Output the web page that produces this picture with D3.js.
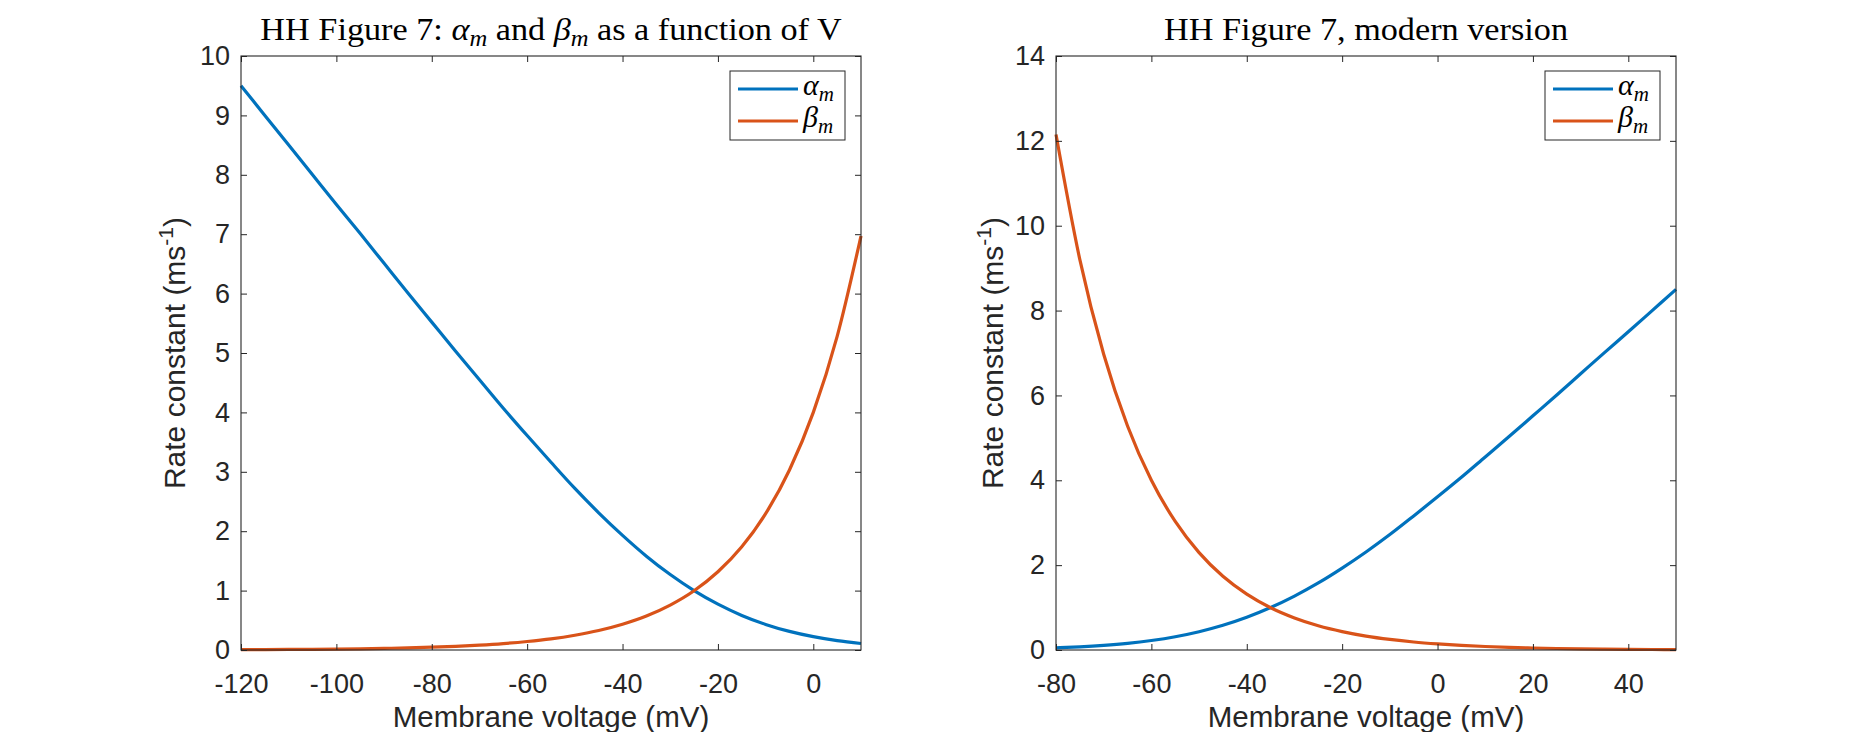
<!DOCTYPE html>
<html><head><meta charset="utf-8">
<script src="https://cdn.jsdelivr.net/npm/d3@7/dist/d3.min.js"></script>
<style>
body{margin:0;background:#fff;}
svg{display:block;}
.tick text{font-family:"Liberation Sans",Arial,sans-serif;fill:#262626;}
</style></head>
<body>
<svg id="chart" width="1852" height="732"></svg>
<script>
// ---------- data ----------
const voltsLeft = [-120,-115,-110,-105,-100,-95,-90,-85,-80,-75,-70,-65,-60,-55,-50,-45,-40,-35,-30,-25,-20,-15,-10,-5,0,5,10];
const alphaLeft = [9.50,9.00,8.50,8.00,7.50,7.01,6.51,6.01,5.52,5.03,4.55,4.07,3.61,3.16,2.72,2.31,1.93,1.58,1.27,1.00,0.771,0.582,0.431,0.313,0.224,0.157,0.109];
const betaLeft  = [0.0051,0.0067,0.0089,0.0117,0.0155,0.0204,0.027,0.0356,0.047,0.062,0.0819,0.108,0.143,0.188,0.249,0.328,0.434,0.572,0.756,0.997,1.317,1.738,2.295,3.030,4.00,5.28,6.97];

const voltsRight = [-80,-75,-70,-65,-60,-55,-50,-45,-40,-35,-30,-25,-20,-15,-10,-5,0,5,10,15,20,25,30,35,40,45,50];
const alphaRight = [0.0506,0.0746,0.109,0.157,0.224,0.313,0.431,0.582,0.771,1.00,1.27,1.58,1.93,2.31,2.72,3.16,3.61,4.07,4.55,5.03,5.52,6.01,6.51,7.01,7.50,8.00,8.50];
const betaRight  = [12.15,9.20,6.97,5.28,4.00,3.030,2.295,1.738,1.317,0.997,0.756,0.572,0.434,0.328,0.249,0.188,0.143,0.108,0.0819,0.062,0.047,0.0356,0.027,0.0204,0.0155,0.0117,0.0089];

const xTicksLeft  = [-120,-100,-80,-60,-40,-20,0];
const yTicksLeft  = [0,1,2,3,4,5,6,7,8,9,10];
const xTicksRight = [-80,-60,-40,-20,0,20,40];
const yTicksRight = [0,2,4,6,8,10,12,14];
const xDomainLeft = [-120,10], yDomainLeft = [0,10];
const xDomainRight = [-80,50], yDomainRight = [0,14];

const seriesNames = ["α","β"];
const colors = ["#0072BD","#D95319"];

// ---------- drawing ----------
const svg = d3.select("#chart");
svg.append("rect").attr("width",1852).attr("height",732).attr("fill","#fff");

const AX = "#262626";
const plotTop = 56, plotBottom = 650;
const panels = [
  {x0:241, x1:861, volts:voltsLeft, a:alphaLeft, b:betaLeft, xd:xDomainLeft, yd:yDomainLeft, xt:xTicksLeft, yt:yTicksLeft, ylabx:185,
   title:[["HH Figure 7: ","n"],["α","i"],["m","s"],[" and ","n"],["β","i"],["m","s"],[" as a function of V","n"]]},
  {x0:1056, x1:1676, volts:voltsRight, a:alphaRight, b:betaRight, xd:xDomainRight, yd:yDomainRight, xt:xTicksRight, yt:yTicksRight, ylabx:1003,
   title:[["HH Figure 7, modern version","n"]]}
];
const fmt = d => String(d);

panels.forEach(p => {
  const x = d3.scaleLinear().domain(p.xd).range([p.x0,p.x1]);
  const y = d3.scaleLinear().domain(p.yd).range([plotBottom,plotTop]);
  const g = svg.append("g");

  const line = d3.line().x((d,i)=>x(p.volts[i])).y(d=>y(d)).curve(d3.curveMonotoneX);
  [p.a,p.b].forEach((vals,k)=>{
    g.append("path").datum(vals).attr("d",line).attr("fill","none")
      .attr("stroke",colors[k]).attr("stroke-width",3.2).attr("stroke-linejoin","round");
  });

  const fs = 27;
  const xb = g.append("g").attr("transform",`translate(0,${plotBottom})`)
    .call(d3.axisBottom(x).tickValues(p.xt).tickSize(-6).tickSizeOuter(0).tickPadding(24).tickFormat(fmt));
  const yl = g.append("g").attr("transform",`translate(${p.x0},0)`)
    .call(d3.axisLeft(y).tickValues(p.yt).tickSize(-6).tickSizeOuter(0).tickPadding(11).tickFormat(fmt));
  const xtp = g.append("g").attr("transform",`translate(0,${plotTop})`)
    .call(d3.axisTop(x).tickValues(p.xt).tickSize(-6).tickSizeOuter(0).tickFormat(""));
  const yr = g.append("g").attr("transform",`translate(${p.x1},0)`)
    .call(d3.axisRight(y).tickValues(p.yt).tickSize(-6).tickSizeOuter(0).tickFormat(""));
  [xb,yl,xtp,yr].forEach(a=>{
    a.select(".domain").remove();
    a.selectAll(".tick line").attr("stroke",AX).attr("stroke-width",1);
    a.selectAll(".tick text").attr("font-size",fs).attr("fill",AX);
  });
  g.append("rect").attr("x",p.x0).attr("y",plotTop).attr("width",p.x1-p.x0).attr("height",plotBottom-plotTop)
    .attr("fill","none").attr("stroke",AX).attr("stroke-width",1.1);

  g.append("text").attr("x",(p.x0+p.x1)/2).attr("y",727).attr("text-anchor","middle")
    .attr("font-family","Liberation Sans, Arial, sans-serif").attr("font-size",29.5).attr("fill",AX)
    .text("Membrane voltage (mV)");
  const yt = g.append("text").attr("transform",`translate(${p.ylabx},${(plotTop+plotBottom)/2}) rotate(-90)`)
    .attr("text-anchor","middle").attr("font-family","Liberation Sans, Arial, sans-serif")
    .attr("font-size",30).attr("fill",AX);
  yt.append("tspan").text("Rate constant (ms");
  yt.append("tspan").attr("font-size",21).attr("dy",-12).text("-1");
  yt.append("tspan").attr("dy",12).text(")");

  const tt = g.append("text").attr("transform",`translate(${(p.x0+p.x1)/2},40) scale(1.07,1)`).attr("text-anchor","middle")
    .attr("font-family","Liberation Serif, Times New Roman, serif").attr("font-size",32).attr("fill","#000");
  let shifted = false;
  p.title.forEach(([s,t])=>{
    const ts = tt.append("tspan").text(s);
    if (t==="i") { ts.attr("font-style","italic"); if(shifted){ts.attr("dy",-6); shifted=false;} }
    else if (t==="s") { ts.attr("font-style","italic").attr("font-size",23).attr("dy",6); shifted=true; }
    else if (shifted) { ts.attr("dy",-6); shifted=false; }
  });

  const lx0 = p.x1-131, ly0 = 71;
  g.append("rect").attr("x",lx0).attr("y",ly0).attr("width",115).attr("height",69)
    .attr("fill","#fff").attr("stroke",AX).attr("stroke-width",1);
  seriesNames.forEach((nm,k)=>{
    const yy = 89 + k*32;
    g.append("line").attr("x1",lx0+8).attr("x2",lx0+68).attr("y1",yy).attr("y2",yy)
      .attr("stroke",colors[k]).attr("stroke-width",3.2);
    const lt = g.append("text").attr("x",lx0+73).attr("y",yy+6)
      .attr("font-family","Liberation Serif, Times New Roman, serif").attr("font-size",30).attr("fill","#000");
    lt.append("tspan").attr("font-style","italic").text(nm);
    lt.append("tspan").attr("font-style","italic").attr("font-size",21).attr("dy",6).text("m");
  });
});
</script>
</body></html>
